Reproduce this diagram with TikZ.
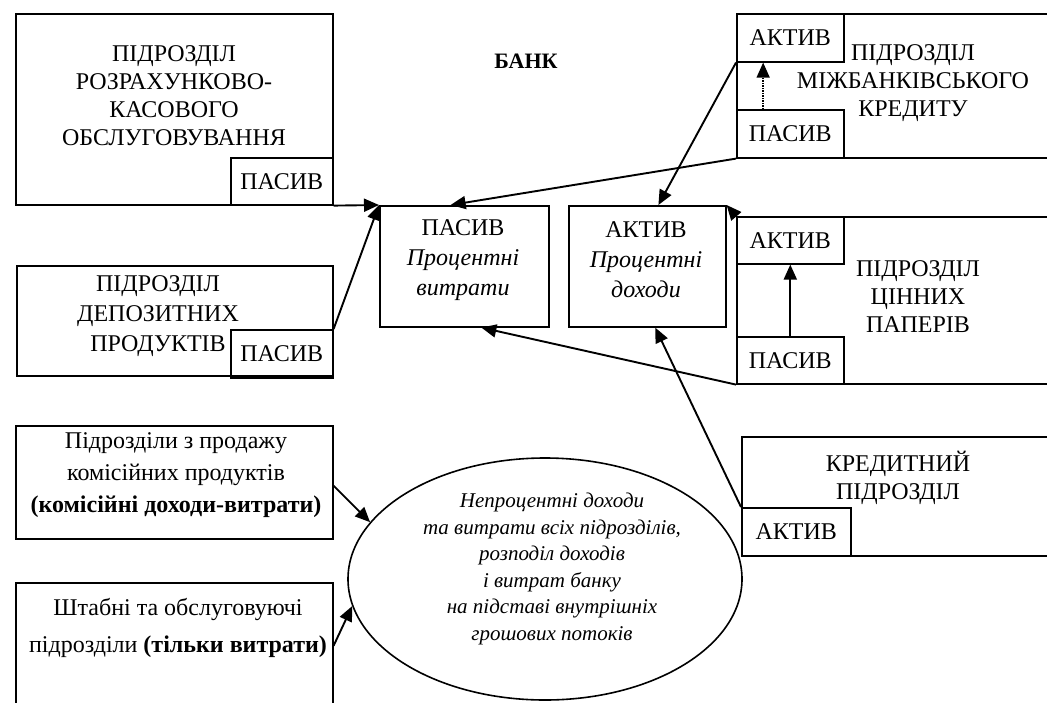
\documentclass[tikz,border=0pt]{standalone}
\usepackage{fontspec}
\setmainfont{Liberation Serif}
\usetikzlibrary{arrows.meta,calc,shapes.geometric}
\begin{document}
\begin{tikzpicture}[x=1pt,y=-1pt,
  line width=1.6pt,
  box/.style={draw, inner sep=0pt, anchor=north west},
  lbl/.style={font=\fontsize{24}{28}\selectfont, align=center, inner sep=0pt},
  sub/.style={font=\fontsize{24}{28}\selectfont, inner sep=0pt},
  it/.style={font=\fontsize{24}{30}\selectfont, align=center, inner sep=0pt},
  arr/.style={-{Triangle[length=15pt,width=13pt]}, line width=1.9pt},
  dotarr/.style={-{Triangle[length=15pt,width=13pt]}, line width=1.5pt, densely dotted}]
\clip (0,0) rectangle (1047,702);
\fill[white] (0,0) rectangle (1047,702);

% title
\node[font=\fontsize{22}{26}\selectfont\bfseries, inner sep=0pt] (bank) at (526,61) {БАНК};

% RKO box
\node[box, minimum width=317pt, minimum height=191pt] (rko) at (15,13) {};
\node[lbl] (rkoT) at (174,96) {ПІДРОЗДІЛ\\РОЗРАХУНКОВО-\\КАСОВОГО\\ОБСЛУГОВУВАННЯ};
\node[box, minimum width=102pt, minimum height=47pt, sub] (rkoP) at (230,157) {ПАСИВ};

% Deposits box
\node[box, minimum width=316pt, minimum height=110pt] (dep) at (16,265) {};
\node[lbl, font=\fontsize{24}{30}\selectfont] (depT) at (158,316) {ПІДРОЗДІЛ\\ДЕПОЗИТНИХ\\ПРОДУКТІВ};
\node[box, minimum width=102pt, minimum height=48pt, sub] (depP) at (230,329) {ПАСИВ};

% Centre boxes
\node[box, minimum width=169pt, minimum height=121pt] (cP) at (379,205) {};
\node[it] (cPT) at (463,260) {ПАСИВ\\\itshape Процентні\\\itshape витрати};
\node[box, minimum width=157pt, minimum height=121pt] (cA) at (568,205) {};
\node[it] (cAT) at (646,260) {АКТИВ\\\itshape Процентні\\\itshape доходи};

% Interbank credit box
\node[box, minimum width=320pt, minimum height=144pt] (mbk) at (736,13) {};
\node[box, minimum width=107pt, minimum height=48pt, sub] (mbkA) at (736,13) {АКТИВ};
\node[box, minimum width=107pt, minimum height=48pt, sub] (mbkP) at (736,109) {ПАСИВ};
\node[lbl] (mbkT) at (913,83) {ПІДРОЗДІЛ\\МІЖБАНКІВСЬКОГО\\КРЕДИТУ};

% Securities box
\node[box, minimum width=320pt, minimum height=167pt] (cp) at (736,216) {};
\node[box, minimum width=107pt, minimum height=47pt, sub] (cpA) at (736,216) {АКТИВ};
\node[box, minimum width=107pt, minimum height=47pt, sub] (cpP) at (736,336) {ПАСИВ};
\node[lbl] (cpT) at (918,297) {ПІДРОЗДІЛ\\ЦІННИХ\\ПАПЕРІВ};

% Credit box
\node[box, minimum width=320pt, minimum height=119pt] (kr) at (741,436) {};
\node[box, minimum width=109pt, minimum height=48pt, sub] (krA) at (741,507) {АКТИВ};
\node[lbl] (krT) at (898,478) {КРЕДИТНИЙ\\ПІДРОЗДІЛ};

% Lower left boxes
\node[box, minimum width=317pt, minimum height=113pt] (kom) at (15,425) {};
\node[lbl, font=\fontsize{24}{32}\selectfont] (komT) at (176,475) {Підрозділи з продажу\\комісійних продуктів\\\textbf{(комісійні доходи-витрати)}};
\node[box, minimum width=317pt, minimum height=140pt] (sht) at (15,582) {};
\node[lbl, font=\fontsize{24}{37}\selectfont] (shtT) at (178,628) {Штабні та обслуговуючі\\підрозділи \textbf{(тільки витрати)}};

% Ellipse
\node[draw, ellipse, minimum width=394pt, minimum height=242pt, inner sep=0pt] (ell) at (545,579) {};
\node[align=center, inner sep=0pt, font=\fontsize{21}{26.5}\selectfont\itshape] (ellT) at (552,569)
  {Непроцентні доходи\\та витрати всіх підрозділів,\\розподіл доходів\\і витрат банку\\на підставі внутрішніх\\грошових потоків};

% Connectors
\draw[arr] (rkoP.south east) -- (cP.north west);
\draw[arr] (depP.north east) -- (cP.north west);
\draw[arr] (mbkP.south west) -- ($(cP.north west)!0.42!(cP.north east)$);
\draw[arr] (mbkA.south west) -- ($(cA.north west)!0.57!(cA.north east)$);
\draw[dotarr] ($(mbkP.north west)!0.25!(mbkP.north east)$) -- ($(mbkA.south west)!0.25!(mbkA.south east)$);
\draw[arr] (cpA.north west) -- (cA.north east);
\draw[arr] ($(cpP.north west)!0.5!(cpP.north east)$) -- ($(cpA.south west)!0.5!(cpA.south east)$);
\draw[arr] (cpP.south west) -- ($(cP.south west)!0.6!(cP.south east)$);
\draw[arr] (krA.north west) -- ($(cA.south west)!0.55!(cA.south east)$);
\draw[arr] ($(kom.north east)!0.53!(kom.south east)$) -- (ell.162);
\draw[arr] ($(sht.north east)!0.45!(sht.south east)$) -- (ell.188);
\end{tikzpicture}
\end{document}
